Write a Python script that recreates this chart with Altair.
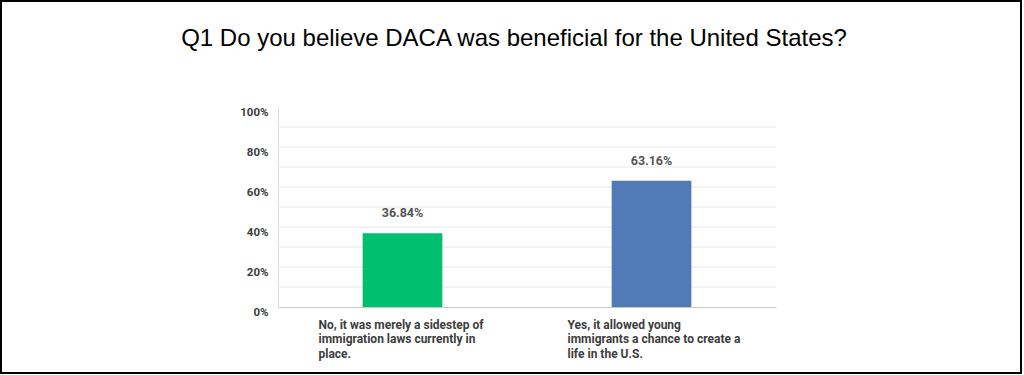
import altair as alt
import pandas as pd

categories = [
    "No, it was merely a sidestep of\nimmigration laws currently in\nplace.",
    "Yes, it allowed young\nimmigrants a chance to create a\nlife in the U.S.",
]
values = [0.3684, 0.6316]
value_labels = ["36.84%", "63.16%"]
colors = ["#00bf6f", "#507bb6"]
title_text = "Q1 Do you believe DACA was beneficial for the United States?"
grid_values = [0.1, 0.2, 0.3, 0.4, 0.5, 0.6, 0.7, 0.8, 0.9]
tick_values = [0, 0.2, 0.4, 0.6, 0.8, 1.0]

df = pd.DataFrame({"cat": categories, "val": values, "lab": value_labels})
grid_df = pd.DataFrame({"g": grid_values})

FONT = "Roboto"

x_axis = alt.Axis(
    labelExpr="split(datum.label, '\\n')",
    labelAlign="left",
    labelOffset=-84,
    labelPadding=12,
    labelLineHeight=14.5,
    labelFont=FONT,
    labelFontSize=12,
    labelFontWeight="bold",
    labelColor="#3d3d3d",
    labelAngle=0,
    labelOverlap=False,
    labelLimit=400,
    ticks=False,
    domainColor="#c8c8c8",
    domainWidth=1,
    grid=False,
)

y_axis = alt.Axis(
    values=tick_values,
    format=".0%",
    labelOffset=5,
    labelPadding=10,
    labelFont=FONT,
    labelFontSize=11.5,
    labelFontWeight="bold",
    labelColor="#3d3d3d",
    labelOverlap=False,
    labelFlush=False,
    ticks=False,
    domainColor="#dddddd",
    grid=False,
)

x_scale = alt.Scale(paddingInner=0.68, paddingOuter=0.34)
y_scale = alt.Scale(domain=[0, 1])

grid = alt.Chart(grid_df).mark_rule(color="#e6e6e6", strokeWidth=1).encode(
    y=alt.Y("g:Q", scale=y_scale, axis=y_axis, title=None)
)

bars = alt.Chart(df).mark_bar().encode(
    x=alt.X("cat:N", sort=categories, title=None, scale=x_scale, axis=x_axis),
    y=alt.Y("val:Q", title=None, scale=y_scale, axis=y_axis),
    color=alt.Color("cat:N", scale=alt.Scale(domain=categories, range=colors), legend=None),
)

texts = alt.Chart(df).mark_text(
    dy=-20, baseline="middle", align="center",
    font=FONT, fontSize=12.5, fontWeight="bold", color="#555555",
).encode(
    x=alt.X("cat:N", sort=categories, title=None, scale=x_scale, axis=x_axis),
    y=alt.Y("val:Q", title=None, scale=y_scale, axis=y_axis),
    text="lab:N",
)

title = alt.Chart(alt.Data(values=[{"t": title_text}])).mark_text(
    font="Liberation Sans", fontSize=24, color="#000000",
    align="center", baseline="middle",
).encode(
    x=alt.value(236), y=alt.value(-68), text="t:N"
)

border = alt.Chart(alt.Data(values=[{}])).mark_rect(
    fillOpacity=0, stroke="black", strokeWidth=2
).encode(
    x=alt.value(-277), x2=alt.value(743), y=alt.value(-106), y2=alt.value(266)
)

chart = alt.layer(grid, bars, texts, title, border).properties(
    width=498,
    height=200,
    autosize=alt.AutoSizeParams(type="none"),
    padding={"left": 278, "top": 107, "right": 248, "bottom": 68},
    background="white",
).configure_view(stroke=None)

chart.save("out.html", embed_options={"renderer": "svg", "actions": False})
